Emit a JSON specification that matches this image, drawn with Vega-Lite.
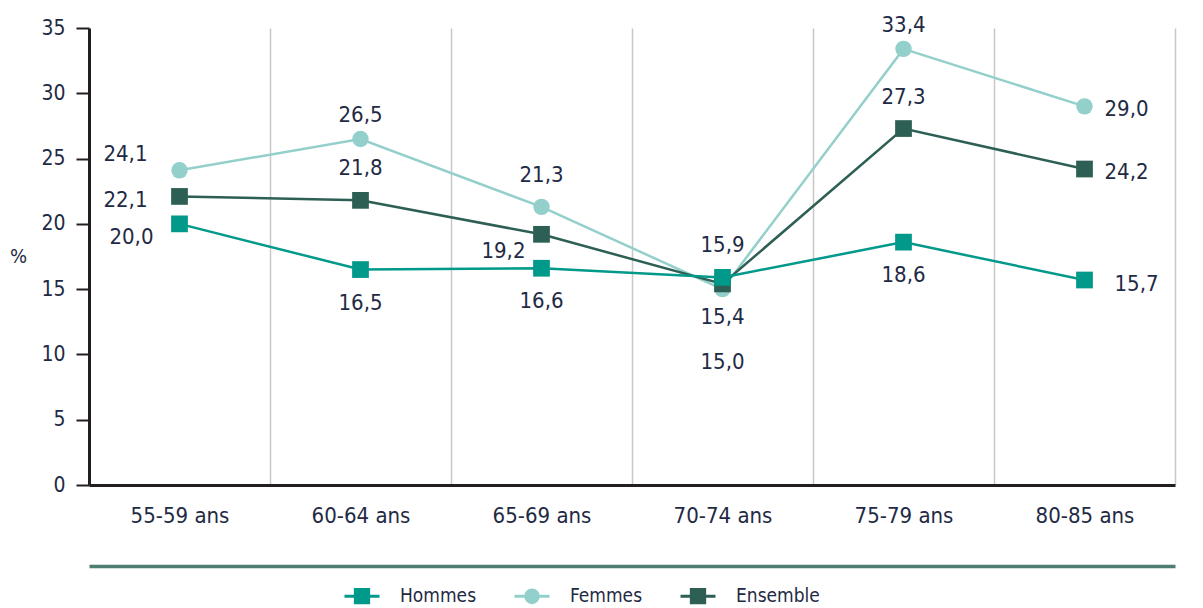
{
  "$schema": "https://vega.github.io/schema/vega-lite/v6.json",
  "width": 1086,
  "height": 457,
  "autosize": "none",
  "padding": {"left": 89, "top": 28, "right": 28, "bottom": 123},
  "background": "white",
  "config": {
    "view": {"stroke": null},
    "font": "DejaVu Sans Condensed, sans-serif"
  },
  "data": {
    "values": [
      {"age": "55-59 ans", "serie": "Femmes", "valeur": 24.1, "pos": "gauche-haut"},
      {"age": "60-64 ans", "serie": "Femmes", "valeur": 26.5, "pos": "haut"},
      {"age": "65-69 ans", "serie": "Femmes", "valeur": 21.3, "pos": "haut2"},
      {"age": "70-74 ans", "serie": "Femmes", "valeur": 15.0, "pos": "bas3"},
      {"age": "75-79 ans", "serie": "Femmes", "valeur": 33.4, "pos": "haut"},
      {"age": "80-85 ans", "serie": "Femmes", "valeur": 29.0, "pos": "droite"},
      {"age": "55-59 ans", "serie": "Ensemble", "valeur": 22.1, "pos": "gauche"},
      {"age": "60-64 ans", "serie": "Ensemble", "valeur": 21.8, "pos": "haut2"},
      {"age": "65-69 ans", "serie": "Ensemble", "valeur": 19.2, "pos": "bas-gauche"},
      {"age": "70-74 ans", "serie": "Ensemble", "valeur": 15.4, "pos": "bas"},
      {"age": "75-79 ans", "serie": "Ensemble", "valeur": 27.3, "pos": "haut2"},
      {"age": "80-85 ans", "serie": "Ensemble", "valeur": 24.2, "pos": "droite"},
      {"age": "55-59 ans", "serie": "Hommes", "valeur": 20.0, "pos": "gauche-bas"},
      {"age": "60-64 ans", "serie": "Hommes", "valeur": 16.5, "pos": "bas"},
      {"age": "65-69 ans", "serie": "Hommes", "valeur": 16.6, "pos": "bas"},
      {"age": "70-74 ans", "serie": "Hommes", "valeur": 15.9, "pos": "haut2"},
      {"age": "75-79 ans", "serie": "Hommes", "valeur": 18.6, "pos": "bas"},
      {"age": "80-85 ans", "serie": "Hommes", "valeur": 15.7, "pos": "droite2"}
    ]
  },
  "transform": [
    {"calculate": "replace(format(datum.valeur, '.1f'), '.', ',')", "as": "etiquette"}
  ],
  "encoding": {
    "x": {
      "field": "age", "type": "nominal",
      "sort": ["55-59 ans", "60-64 ans", "65-69 ans", "70-74 ans", "75-79 ans", "80-85 ans"],
      "scale": {"type": "band", "paddingInner": 0, "paddingOuter": 0},
      "axis": null
    },
    "y": {
      "field": "valeur", "type": "quantitative",
      "scale": {"domain": [0, 35], "nice": false, "zero": true},
      "axis": {
        "title": "%", "titleAngle": 0, "titleX": -71, "titleY": 228,
        "titleAlign": "center", "titleBaseline": "middle",
        "titleFontSize": 20, "titleFontWeight": "normal", "titleColor": "#1f2a44",
        "values": [0, 5, 10, 15, 20, 25, 30, 35],
        "domainColor": "#231f20", "domainWidth": 3,
        "tickColor": "#231f20", "tickWidth": 2, "tickSize": 13,
        "labelFontSize": 21, "labelColor": "#1f2a44", "labelPadding": 11,
        "grid": false, "zindex": 1
      }
    },
    "color": {
      "field": "serie", "type": "nominal",
      "scale": {"domain": ["Hommes", "Femmes", "Ensemble"], "range": ["#00998a", "#93cfcb", "#2e5f55"]},
      "legend": {
        "orient": "none", "legendX": 254, "legendY": 549,
        "direction": "horizontal", "title": null,
        "symbolSize": 1225, "labelOffset": 19, "columnPadding": 31,
        "labelFontSize": 19, "labelColor": "#1f2a44",
        "symbolStrokeWidth": 3,
        "encode": {
          "symbols": {
            "update": {
              "shape": {"signal": "datum.value === 'Femmes' ? 'M-1,0H1M-0.36,0A0.36,0.36 0 1,1 0.36,0A0.36,0.36 0 1,1 -0.36,0Z' : 'M-1,0H1M-0.38,-0.38H0.38V0.38H-0.38Z'"},
              "fill": {"signal": "scale('color', datum.value)"},
              "stroke": {"signal": "scale('color', datum.value)"},
              "strokeWidth": {"value": 3},
              "opacity": {"value": 1},
              "fillOpacity": {"value": 1}
            }
          }
        }
      }
    }
  },
  "layer": [
    {
      "mark": {"type": "line", "strokeWidth": 2.5},
      "encoding": {
        "x": {
          "field": "age", "type": "nominal",
          "sort": ["55-59 ans", "60-64 ans", "65-69 ans", "70-74 ans", "75-79 ans", "80-85 ans"],
          "scale": {"type": "band", "paddingInner": 0, "paddingOuter": 0},
          "axis": {
            "orient": "bottom", "title": null,
            "domainColor": "#231f20", "domainWidth": 3,
            "ticks": false, "labelAngle": 0,
            "labelFontSize": 22, "labelColor": "#1f2a44", "labelPadding": 20,
            "grid": true, "gridColor": "#c8c8c8", "gridWidth": 1.5,
            "tickBand": "extent", "zindex": 0
          }
        }
      }
    },
    {
      "transform": [{"filter": "datum.serie === 'Femmes'"}],
      "mark": {"type": "point", "filled": true, "opacity": 1, "size": 270, "shape": "circle"},
      "encoding": {
        "x": {
          "field": "age", "type": "nominal",
          "sort": ["55-59 ans", "60-64 ans", "65-69 ans", "70-74 ans", "75-79 ans", "80-85 ans"],
          "scale": {"type": "band", "paddingInner": 0, "paddingOuter": 0},
          "axis": {
            "orient": "bottom", "title": null, "offset": 81,
            "domainColor": "#4e7e73", "domainWidth": 3.5,
            "labels": false, "ticks": false, "grid": false, "zindex": 0
          }
        }
      }
    },
    {
      "transform": [{"filter": "datum.serie !== 'Femmes'"}],
      "mark": {"type": "point", "filled": true, "opacity": 1, "size": 280, "shape": "square"}
    },
    {
      "transform": [{"filter": "datum.pos === 'haut'"}],
      "mark": {"type": "text", "fontSize": 22, "baseline": "middle", "align": "center", "dy": -24},
      "encoding": {"text": {"field": "etiquette"}, "color": {"value": "#1f2a44"}}
    },
    {
      "transform": [{"filter": "datum.pos === 'haut2'"}],
      "mark": {"type": "text", "fontSize": 22, "baseline": "middle", "align": "center", "dy": -32},
      "encoding": {"text": {"field": "etiquette"}, "color": {"value": "#1f2a44"}}
    },
    {
      "transform": [{"filter": "datum.pos === 'bas'"}],
      "mark": {"type": "text", "fontSize": 22, "baseline": "middle", "align": "center", "dy": 33},
      "encoding": {"text": {"field": "etiquette"}, "color": {"value": "#1f2a44"}}
    },
    {
      "transform": [{"filter": "datum.pos === 'bas3'"}],
      "mark": {"type": "text", "fontSize": 22, "baseline": "middle", "align": "center", "dy": 73},
      "encoding": {"text": {"field": "etiquette"}, "color": {"value": "#1f2a44"}}
    },
    {
      "transform": [{"filter": "datum.pos === 'droite'"}],
      "mark": {"type": "text", "fontSize": 22, "baseline": "middle", "align": "left", "dx": 20, "dy": 3},
      "encoding": {"text": {"field": "etiquette"}, "color": {"value": "#1f2a44"}}
    },
    {
      "transform": [{"filter": "datum.pos === 'droite2'"}],
      "mark": {"type": "text", "fontSize": 22, "baseline": "middle", "align": "left", "dx": 30, "dy": 4},
      "encoding": {"text": {"field": "etiquette"}, "color": {"value": "#1f2a44"}}
    },
    {
      "transform": [{"filter": "datum.pos === 'gauche-haut'"}],
      "mark": {"type": "text", "fontSize": 22, "baseline": "middle", "align": "right", "dx": -32, "dy": -16},
      "encoding": {"text": {"field": "etiquette"}, "color": {"value": "#1f2a44"}}
    },
    {
      "transform": [{"filter": "datum.pos === 'gauche'"}],
      "mark": {"type": "text", "fontSize": 22, "baseline": "middle", "align": "right", "dx": -32, "dy": 4},
      "encoding": {"text": {"field": "etiquette"}, "color": {"value": "#1f2a44"}}
    },
    {
      "transform": [{"filter": "datum.pos === 'gauche-bas'"}],
      "mark": {"type": "text", "fontSize": 22, "baseline": "middle", "align": "right", "dx": -26, "dy": 13},
      "encoding": {"text": {"field": "etiquette"}, "color": {"value": "#1f2a44"}}
    },
    {
      "transform": [{"filter": "datum.pos === 'bas-gauche'"}],
      "mark": {"type": "text", "fontSize": 22, "baseline": "middle", "align": "right", "dx": -16, "dy": 17},
      "encoding": {"text": {"field": "etiquette"}, "color": {"value": "#1f2a44"}}
    }
  ],
  "resolve": {"axis": {"x": "independent"}}
}
